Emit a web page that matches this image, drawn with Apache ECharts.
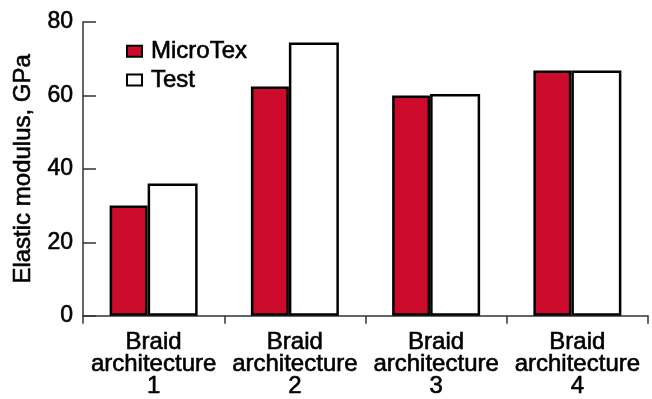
<!DOCTYPE html>
<html>
<head>
<meta charset="utf-8">
<script src="https://cdn.jsdelivr.net/npm/echarts@6/dist/echarts.min.js"></script>
<style>
  html, body { margin: 0; padding: 0; background: #fff; }
  #chart { width: 652px; height: 399px; }
</style>
</head>
<body>
<div id="chart"></div>
<script>
// data
var categories = ['Braid\narchitecture\n1', 'Braid\narchitecture\n2', 'Braid\narchitecture\n3', 'Braid\narchitecture\n4'];
var microTex = [30, 62.4, 60, 66.8];
var test = [36, 74.4, 60.4, 66.8];
var yTicks = [0, 20, 40, 60, 80];

var FONT = '"Liberation Sans", Arial, Helvetica, sans-serif';
var RED = '#cc0a2b';
// a thin outline makes the regular face look a bit heavier, like the original
var heavy = { textBorderColor: '#000', textBorderWidth: 0.6 };

var chart = echarts.init(document.getElementById('chart'), null, { renderer: 'canvas' });

chart.setOption({
    animation: false,
    backgroundColor: '#fff',
    textStyle: { fontFamily: FONT, color: '#000' },
    grid: { left: 83, right: 4, top: 22, bottom: 83 },
    legend: {
        left: 121,
        top: 34,
        orient: 'vertical',
        icon: 'rect',
        itemWidth: 15,
        itemHeight: 11,
        itemGap: 4,
        textStyle: Object.assign({ fontFamily: FONT, fontSize: 24, color: '#000', padding: [0, 0, 0, 4] }, heavy),
        data: ['MicroTex', 'Test']
    },
    xAxis: {
        type: 'category',
        data: categories,
        boundaryGap: true,
        axisLine: { lineStyle: { color: '#333', width: 1.5 } },
        axisTick: { show: true, length: 8, lineStyle: { color: '#333', width: 1.5 } },
        axisLabel: Object.assign({
            interval: 0,
            fontFamily: FONT,
            fontSize: 24,
            lineHeight: 22,
            color: '#000',
            margin: 16
        }, heavy)
    },
    yAxis: {
        type: 'value',
        min: yTicks[0],
        max: yTicks[yTicks.length - 1],
        interval: 20,
        name: 'Elastic modulus, GPa',
        nameLocation: 'middle',
        nameGap: 48,
        nameTextStyle: Object.assign({ fontFamily: FONT, fontSize: 24, color: '#000' }, heavy),
        splitLine: { show: false },
        axisLine: { show: true, lineStyle: { color: '#333', width: 1.5 } },
        axisTick: { show: true, inside: true, length: 13, lineStyle: { color: '#333', width: 1.5 } },
        axisLabel: Object.assign({ fontFamily: FONT, fontSize: 23, color: '#000', margin: 10 }, heavy)
    },
    series: [
        {
            name: 'MicroTex',
            type: 'bar',
            data: microTex,
            barWidth: 38,
            barGap: '0%',
            itemStyle: { color: RED, borderColor: '#000', borderWidth: 2.5 }
        },
        {
            name: 'Test',
            type: 'bar',
            data: test,
            barWidth: 50,
            barGap: '0%',
            itemStyle: { color: '#fff', borderColor: '#000', borderWidth: 2.5 }
        }
    ]
});
</script>
</body>
</html>
